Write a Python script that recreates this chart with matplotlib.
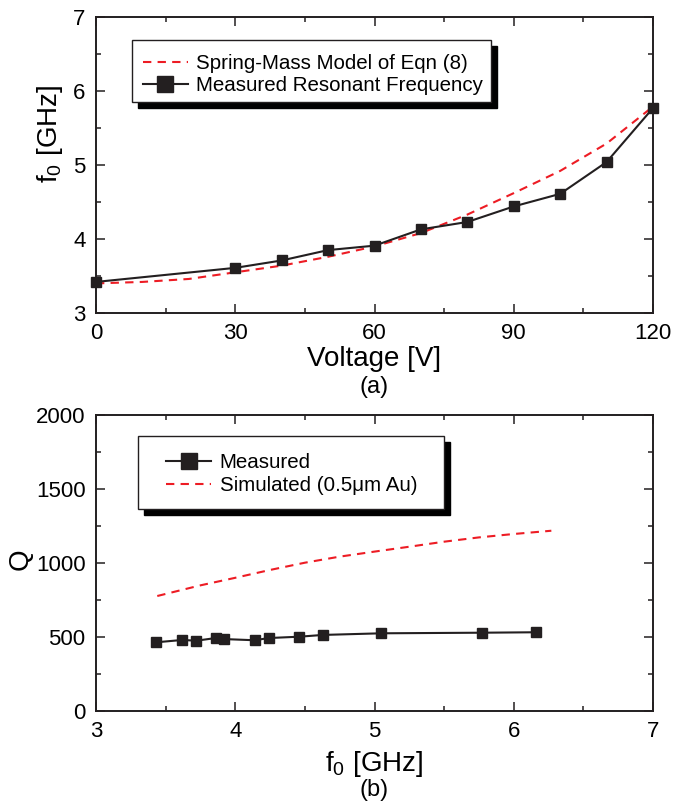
import matplotlib
matplotlib.use("Agg")
import matplotlib.pyplot as plt
from matplotlib.patches import Rectangle
from matplotlib.ticker import MultipleLocator

plt.rcParams['font.family'] = ['Liberation Sans', 'DejaVu Sans']
plt.rcParams['mathtext.fontset'] = 'custom'
plt.rcParams['mathtext.rm'] = 'Liberation Sans'

# ---- data (a) ----
voltage_meas = [0, 30, 40, 50, 60, 70, 80, 90, 100, 110, 120]
f0_meas = [3.42, 3.61, 3.71, 3.85, 3.91, 4.13, 4.23, 4.44, 4.61, 5.04, 5.77]
voltage_model = [0, 10, 20, 30, 40, 50, 60, 70, 80, 90, 100, 110, 120]
f0_model = [3.40, 3.42, 3.46, 3.55, 3.64, 3.76, 3.90, 4.08, 4.33, 4.62, 4.92, 5.29, 5.79]

# ---- data (b) ----
f0_q_meas = [3.43, 3.62, 3.72, 3.86, 3.92, 4.14, 4.24, 4.46, 4.63, 5.05, 5.77, 6.16]
q_meas = [464, 480, 475, 493, 486, 478, 493, 502, 514, 525, 529, 532]
f0_q_sim = [3.44, 3.75, 4.0, 4.25, 4.5, 4.75, 5.0, 5.25, 5.5, 5.75, 6.0, 6.27]
q_sim = [777, 849, 900, 953, 1002, 1043, 1077, 1110, 1144, 1173, 1196, 1218]

BLACK = '#231f20'
RED = '#ed1c24'
TICK_FS = 16
LABEL_FS = 20
LEG_FS = 14.8

fig = plt.figure(figsize=(6.88, 8.06), dpi=100)
W, H = 688, 806


def make_axes(top_px, bottom_px):
    left, right = 96, 653
    return fig.add_axes([left / W, 1 - bottom_px / H, (right - left) / W, (bottom_px - top_px) / H])


def style(ax):
    for s in ax.spines.values():
        s.set_linewidth(1.4)
        s.set_color(BLACK)
    ax.tick_params(which='both', direction='in', top=True, right=True, color=BLACK, width=1.1)
    ax.tick_params(which='major', length=6.5, labelsize=TICK_FS, pad=7.5)
    ax.tick_params(which='minor', length=3.6)


def framed_legend(ax, handles, labels, box, anchor, labelspacing):
    x0, y0, x1, y1 = box
    dx, dy = 6 / 557, 6 / 296
    ax.add_patch(Rectangle((x0 + dx, y0 - dy), x1 - x0, y1 - y0, transform=ax.transAxes,
                           facecolor='black', edgecolor='black', zorder=5, clip_on=False))
    ax.add_patch(Rectangle((x0, y0), x1 - x0, y1 - y0, transform=ax.transAxes,
                           facecolor='white', edgecolor=BLACK, linewidth=1.0, zorder=6, clip_on=False))
    leg = ax.legend(handles, labels, loc='upper left', bbox_to_anchor=anchor, frameon=False,
                    fontsize=LEG_FS, borderpad=0, borderaxespad=0, handlelength=2.2,
                    handletextpad=0.4, labelspacing=labelspacing, markerscale=1.45)
    leg.set_zorder(7)
    return leg


# ================= (a) =================
ax1 = make_axes(17, 313)
style(ax1)
l_model, = ax1.plot(voltage_model, f0_model, color=RED, lw=1.5, ls=(0, (4, 3)), zorder=3)
l_meas, = ax1.plot(voltage_meas, f0_meas, color=BLACK, lw=1.5, marker='s', ms=7.5,
                   mfc=BLACK, mec=BLACK, zorder=4, clip_on=False)
ax1.set_xlim(0, 120)
ax1.set_ylim(3, 7)
ax1.xaxis.set_major_locator(MultipleLocator(30))
ax1.xaxis.set_minor_locator(MultipleLocator(15))
ax1.yaxis.set_major_locator(MultipleLocator(1))
ax1.yaxis.set_minor_locator(MultipleLocator(0.5))
ax1.set_xlabel('Voltage [V]', fontsize=LABEL_FS)
ax1.xaxis.label.set_va('baseline')
ax1.xaxis.set_label_coords(0.5, -0.18)
ax1.set_ylabel(r'f$_\mathregular{0}$ [GHz]', fontsize=LABEL_FS)
ax1.yaxis.label.set_va('center')
ax1.yaxis.set_label_coords(-0.083, 0.605)
ax1.text(0.5, (313 - 393) / 296, '(a)', transform=ax1.transAxes, ha='center', va='baseline',
         fontsize=17)
framed_legend(ax1, [l_model, l_meas], ['Spring-Mass Model of Eqn (8)', 'Measured Resonant Frequency'],
              (0.0646, 0.713, 0.709, 0.922), (0.084, 0.875), 0.14)

# ================= (b) =================
ax2 = make_axes(415, 711)
style(ax2)
l_meas2, = ax2.plot(f0_q_meas, q_meas, color=BLACK, lw=1.5, marker='s', ms=7.5,
                    mfc=BLACK, mec=BLACK, zorder=4)
l_sim, = ax2.plot(f0_q_sim, q_sim, color=RED, lw=1.5, ls=(0, (4, 3)), zorder=3)
ax2.set_xlim(3, 7)
ax2.set_ylim(0, 2000)
ax2.xaxis.set_major_locator(MultipleLocator(1))
ax2.xaxis.set_minor_locator(MultipleLocator(0.5))
ax2.yaxis.set_major_locator(MultipleLocator(500))
ax2.yaxis.set_minor_locator(MultipleLocator(250))
ax2.set_xlabel(r'f$_\mathregular{0}$ [GHz]', fontsize=LABEL_FS)
ax2.xaxis.label.set_va('baseline')
ax2.xaxis.set_label_coords(0.5, (711 - 771) / 296)
ax2.set_ylabel('Q', fontsize=LABEL_FS)
ax2.yaxis.label.set_va('center')
ax2.yaxis.set_label_coords(-0.135, 0.514)
ax2.text(0.5, (711 - 796) / 296, '(b)', transform=ax2.transAxes, ha='center', va='baseline',
         fontsize=17)
framed_legend(ax2, [l_meas2, l_sim], ['Measured', 'Simulated (0.5\u03bcm Au)'],
              (0.0754, 0.682, 0.625, 0.929), (0.126, 0.872), 0.2)

fig.savefig('out.png', dpi=100)
